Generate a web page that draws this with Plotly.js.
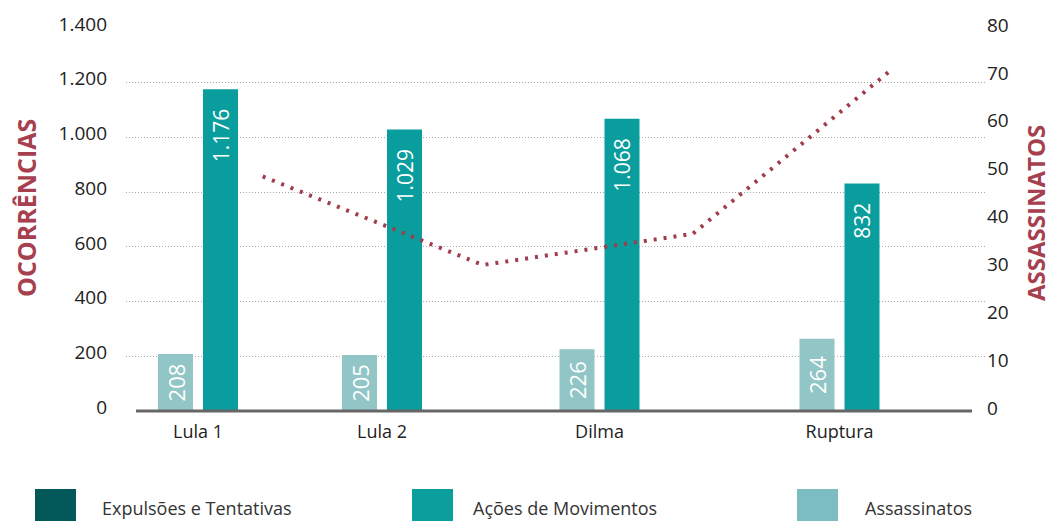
<!DOCTYPE html>
<html>
<head>
<meta charset="utf-8">
<script src="https://cdn.plot.ly/plotly-3.0.1.min.js"></script>
<style>html,body{margin:0;padding:0;background:#fff;}#chart{width:1053px;height:521px;}</style>
</head>
<body>
<div id="chart"></div>
<script>
// ---- data ----
const categories = ["Lula 1", "Lula 2", "Dilma", "Ruptura"];
const categoryPos = [0.72, 2.56, 4.735, 7.135];        // x position of each group
const lightValues = [208, 205, 226, 264];             // light teal bars (left axis)
const actionValues = [1176, 1029, 1068, 832];         // Ações de Movimentos (left axis)
const murderPos = [1.367, 3.567, 5.667, 7.667];        // x position of line points
const murderValues = [49, 30.5, 37, 71.5];            // Assassinatos (right axis)
const leftTicks = [0, 200, 400, 600, 800, 1000, 1200, 1400];
const rightTicks = [0, 10, 20, 30, 40, 50, 60, 70, 80];
const legendNames = ["Expulsões e Tentativas", "Ações de Movimentos", "Assassinatos"];
const legendColors = ["#03585a", "#0a9e9c", "#7bbdc0"];
const leftTitle = "OCORRÊNCIAS";
const rightTitle = "ASSASSINATOS";

const FONT = "Open Sans, Noto Sans, sans-serif";
const NB = "\u00a0\u00a0\u00a0";

const traces = [
  {
    type: "bar", name: "Expulsões e Tentativas", x: categoryPos, y: lightValues,
    offset: -0.40, width: 0.35, marker: {color: "#91c5c6"},
    texttemplate: "%{y:,}", textposition: "inside", insidetextanchor: "middle",
    textangle: -90, constraintext: "none",
    insidetextfont: {color: "#ffffff", size: 22, family: FONT},
    showlegend: false, hoverinfo: "skip"
  },
  {
    type: "bar", name: "Ações de Movimentos", x: categoryPos, y: actionValues,
    offset: 0.05, width: 0.35, marker: {color: "#099d9d"},
    texttemplate: "%{y:,}" + NB, textposition: "inside", insidetextanchor: "end",
    textangle: -90, constraintext: "none",
    insidetextfont: {color: "#ffffff", size: 21, family: FONT},
    showlegend: false, hoverinfo: "skip"
  },
  {
    type: "scatter", mode: "lines", name: "Assassinatos", x: murderPos, y: murderValues,
    yaxis: "y2", line: {color: "#a03c4b", width: 4, dash: "3px,7px", shape: "linear"},
    showlegend: false, hoverinfo: "skip"
  }
];

const shapes = [
  // baseline
  {type: "line", xref: "paper", yref: "paper", x0: (136-126)/859, x1: (972-126)/859, y0: 0, y1: 0,
   line: {color: "#666666", width: 3}}
];
const annotations = [
  {xref: "paper", yref: "paper", x: (26-126)/859, y: (411-208)/383, xanchor: "center", yanchor: "middle",
   textangle: -90, showarrow: false, text: leftTitle, borderpad: 0,
   font: {family: FONT, size: 25, color: "#a6404f", weight: "bold"}},
  {xref: "paper", yref: "paper", x: (1035-126)/859, y: (411-213)/383, xanchor: "center", yanchor: "middle",
   textangle: -90, showarrow: false, text: rightTitle, borderpad: 0,
   font: {family: FONT, size: 24, color: "#a6404f", weight: "bold"}}
];
const legX = [35, 412, 797];
const legTextX = [100, 471, 863];
for (let i = 0; i < legendNames.length; i++) {
  shapes.push({type: "rect", xref: "paper", yref: "paper",
    x0: (legX[i]-126)/859, x1: (legX[i]+41-126)/859,
    y0: (411-489)/383, y1: (411-523)/383,
    fillcolor: legendColors[i], line: {width: 0}});
  annotations.push({xref: "paper", yref: "paper", x: (legTextX[i]-126)/859, y: (411-508)/383,
    xanchor: "left", yanchor: "middle", showarrow: false, text: legendNames[i],
    font: {family: FONT, size: 18, color: "#333333"}});
}

const layout = {
  width: 1053, height: 521,
  margin: {l: 126, r: 68, t: 28, b: 110},
  paper_bgcolor: "#ffffff", plot_bgcolor: "#ffffff",
  separators: ",.",
  barmode: "overlay",
  showlegend: false,
  font: {family: FONT, size: 16, color: "#222222"},
  xaxis: {
    range: [0, 8.59], tickmode: "array", tickvals: categoryPos, ticktext: categories,
    showgrid: false, zeroline: false, showline: false, ticks: "",
    tickfont: {size: 18, color: "#222222"}, ticklabelstandoff: 8
  },
  yaxis: {
    range: [0, 1400], tickmode: "array", tickvals: leftTicks, tickformat: ",d",
    showgrid: true, gridcolor: "#a8a8a8", griddash: "1px,2px", gridwidth: 1,
    zeroline: false, showline: false, ticks: "", ticklabelstandoff: 18, ticklabelshift: -4,
    tickfont: {size: 19, color: "#222222"}
  },
  yaxis2: {
    range: [0, 80], overlaying: "y", side: "right", tickmode: "array", tickvals: rightTicks,
    showgrid: false, zeroline: false, showline: false, ticks: "", ticklabelstandoff: 1, ticklabelshift: -3,
    tickfont: {size: 19, color: "#222222"}
  },
  shapes: shapes,
  annotations: annotations
};

Plotly.newPlot("chart", traces, layout, {displayModeBar: false, staticPlot: true});
</script>
</body>
</html>
